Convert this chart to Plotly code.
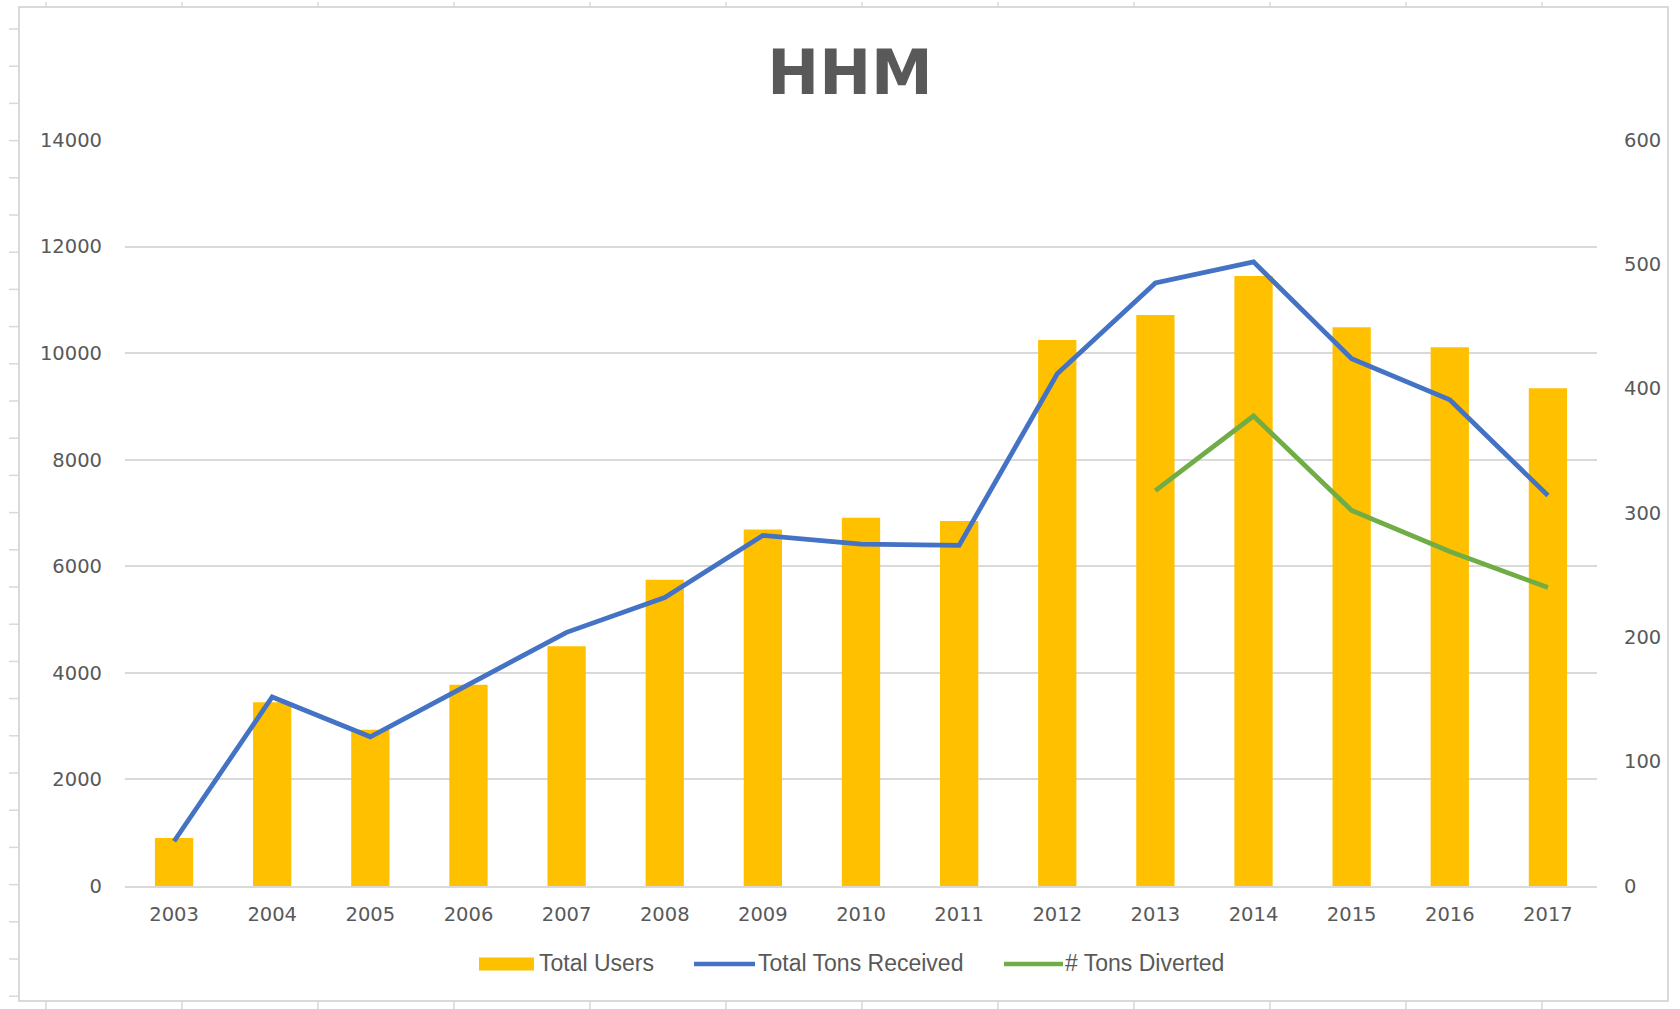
import plotly.graph_objects as go

years = ["2003", "2004", "2005", "2006", "2007", "2008", "2009", "2010",
         "2011", "2012", "2013", "2014", "2015", "2016", "2017"]
total_users = [900, 3450, 2930, 3775, 4500, 5745, 6690, 6910, 6850,
               10245, 10715, 11447, 10484, 10109, 9339]
tons_received = [36, 152, 120, 162, 204, 232, 282, 275, 274,
                 412, 485, 502, 424, 391, 314]
tons_diverted = [None, None, None, None, None, None, None, None, None,
                 None, 318, 378, 302, 269, 240]
left_ticks = [0, 2000, 4000, 6000, 8000, 10000, 12000, 14000]
right_ticks = [0, 100, 200, 300, 400, 500, 600]
series_names = ["Total Users", "Total Tons Received", "# Tons Diverted"]
series_colors = ["#FFC000", "#4472C4", "#70AD47"]

TXT = "#595959"
GRID = "#d9d9d9"
FONT = "DejaVu Sans, Verdana, sans-serif"
LFONT = "Liberation Sans, Arial, sans-serif"

fig = go.Figure()
fig.add_trace(go.Bar(x=years, y=total_users, name=series_names[0],
                     marker=dict(color=series_colors[0], line=dict(width=0)), yaxis="y"))
fig.add_trace(go.Scatter(x=years, y=tons_received, name=series_names[1],
                         mode="lines", line=dict(color=series_colors[1], width=4.8), yaxis="y2"))
fig.add_trace(go.Scatter(x=years, y=tons_diverted, name=series_names[2],
                         mode="lines", line=dict(color=series_colors[2], width=4.8), yaxis="y2"))

W, H = 1680, 1009
L, R, T, B = 125, 1597, 140, 886
PW, PH = R - L, B - T


def px(x):
    return (x - L) / PW


def py(y):
    return (B - y) / PH


shapes = []
annotations = []
# outer chart frame
shapes.append(dict(type="rect", xref="paper", yref="paper",
                   x0=px(19), x1=px(1668), y0=py(1001), y1=py(7),
                   line=dict(color=GRID, width=2), fillcolor="rgba(0,0,0,0)", layer="below"))
# decorative ruler ticks (left side)
for i in range(30):
    yy = 29 + i * 37.2
    if yy > 1000:
        break
    shapes.append(dict(type="line", xref="paper", yref="paper",
                       x0=px(9), x1=px(19), y0=py(yy), y1=py(yy),
                       line=dict(color=GRID, width=1.5)))
# top and bottom ruler ticks
for i in range(14):
    xx = 46 + i * 136
    if xx > 1670:
        break
    shapes.append(dict(type="line", xref="paper", yref="paper",
                       x0=px(xx), x1=px(xx), y0=py(1001), y1=py(1009),
                       line=dict(color=GRID, width=1.5)))
    shapes.append(dict(type="line", xref="paper", yref="paper",
                       x0=px(xx), x1=px(xx), y0=py(7), y1=py(2),
                       line=dict(color=GRID, width=1.5)))

# custom legend (Excel style: long swatches)
LEG_Y = 964
swatches = [(479, 534), (694, 755), (1004, 1063)]
text_x = [538, 757, 1064]
for k, (name, col) in enumerate(zip(series_names, series_colors)):
    x0, x1 = swatches[k]
    if k == 0:
        shapes.append(dict(type="rect", xref="paper", yref="paper",
                           x0=px(x0), x1=px(x1), y0=py(LEG_Y + 6.5), y1=py(LEG_Y - 6.5),
                           fillcolor=col, line=dict(width=0)))
    else:
        shapes.append(dict(type="line", xref="paper", yref="paper",
                           x0=px(x0), x1=px(x1), y0=py(LEG_Y), y1=py(LEG_Y),
                           line=dict(color=col, width=4.5)))
    annotations.append(dict(text=name, xref="paper", yref="paper",
                            x=px(text_x[k]), y=py(LEG_Y - 1), xanchor="left", yanchor="middle",
                            showarrow=False, borderpad=0,
                            font=dict(family=LFONT, size=23, color=TXT)))

fig.update_layout(
    width=W, height=H,
    margin=dict(l=L, r=W - R, t=T, b=H - B),
    paper_bgcolor="white", plot_bgcolor="white",
    title=dict(text="<b>HHM</b>", x=850 / W, xanchor="center",
               y=1 - 72 / H, yanchor="middle", yref="container",
               font=dict(family=FONT, size=62, color=TXT)),
    bargap=0.61,
    showlegend=False,
    xaxis=dict(type="category", showgrid=False, showline=True, linecolor=GRID, linewidth=1.5,
               ticks="", tickfont=dict(family=FONT, size=19.5, color=TXT), ticklabelstandoff=10,
               zeroline=False),
    yaxis=dict(range=[0, 14000], tickvals=left_ticks, tickformat="d",
               showgrid=True, gridcolor=GRID, gridwidth=1.5, zeroline=False, showline=False,
               ticks="", tickfont=dict(family=FONT, size=19.5, color=TXT), ticklabelstandoff=22),
    yaxis2=dict(range=[0, 600], tickvals=right_ticks, overlaying="y", side="right",
                showgrid=False, zeroline=False, showline=False, ticks="",
                tickfont=dict(family=FONT, size=19.5, color=TXT), ticklabelstandoff=26),
    shapes=shapes,
    annotations=annotations,
)

fig.write_html("out.html", config={"displayModeBar": False},
               post_script="document.body.style.margin='0px';document.body.style.padding='0px';")
